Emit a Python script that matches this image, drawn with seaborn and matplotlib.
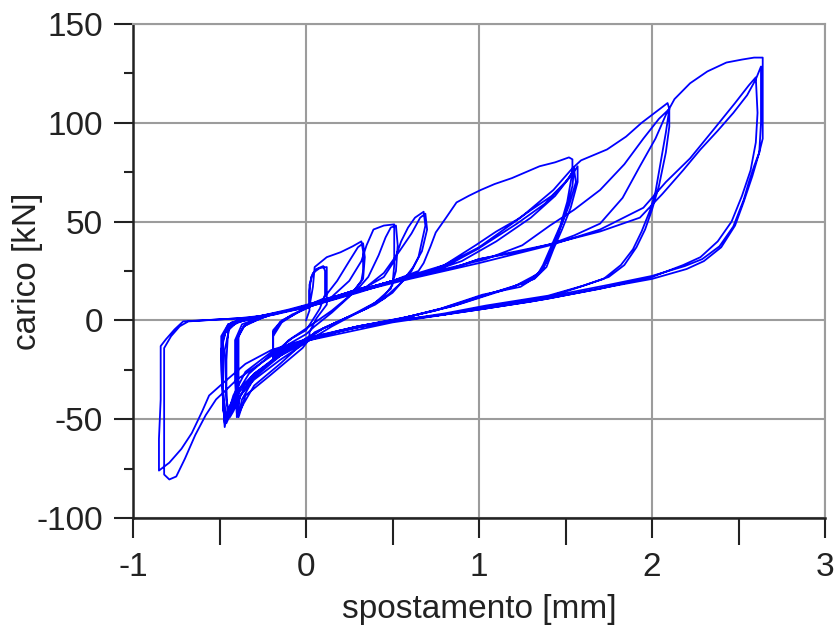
import numpy as np
import pandas as pd
import matplotlib
matplotlib.use("Agg")
import matplotlib.pyplot as plt
import seaborn as sns
from matplotlib.ticker import MultipleLocator

# ---------------- data ----------------
# displacement [mm] / load [kN], one list per cycle, in loading order
a1_x = [0.00, 0.02, 0.02, 0.03, 0.06, 0.10, 0.11, 0.11, 0.08, 0.03, 0.00, -0.08, -0.15, -0.19, -0.19, -0.19, -0.15, -0.08, 0.00, 0.02]
a1_y = [0, 5, 15, 22, 26, 27.5, 25, 13, 6, -1, -5, -9, -14, -20, -12, -5, -1, 3, 6, 7]
a2_x = [0.02, 0.04, 0.08, 0.12, 0.12, 0.12, 0.06, 0.02, 0.02, -0.10, -0.19, -0.19, -0.14, -0.05, 0.02]
a2_y = [18, 24, 26.5, 27, 18, 8, 1, -6, -10, -13, -19, -8, -1, 4, 7]
b1_x = [0.04, 0.05, 0.12, 0.20, 0.27, 0.32, 0.33, 0.33, 0.32, 0.25, 0.15, 0.05, 0.00, -0.10, -0.19, -0.19, -0.15, -0.05, 0.02]
b1_y = [17, 27, 32, 34.5, 37.5, 40, 35, 25, 20, 12, 4, -3, -7, -12, -19, -7, -1, 4, 8]
b2_x = [0.10, 0.18, 0.25, 0.30, 0.33, 0.34, 0.33, 0.26, 0.15, 0.02, -0.10, -0.19, -0.19, -0.14, 0.00]
b2_y = [11, 20, 30, 37, 39, 32, 21, 13, 5, -3, -10, -18, -6, 0, 6]
c1_x = [0.15, 0.25, 0.32, 0.35, 0.39, 0.45, 0.51, 0.51, 0.51, 0.50, 0.45, 0.35, 0.20, 0.05, -0.02, -0.21, -0.35, -0.39, -0.39, -0.39, -0.39, -0.36, -0.30, -0.20, -0.10, 0.00]
c1_y = [12, 20, 30, 38, 46, 48, 48.6, 40, 28, 18, 12, 6, 0, -6, -14, -28, -38, -49, -35, -20, -8, -3, 0, 3, 5, 7]
c2_x = [0.15, 0.30, 0.36, 0.42, 0.46, 0.49, 0.52, 0.53, 0.52, 0.49, 0.40, 0.25, 0.10, 0.00, -0.15, -0.30, -0.36, -0.40, -0.40, -0.40, -0.36, -0.25, -0.10, 0.02]
c2_y = [11, 16, 22, 33, 42, 47, 48, 38, 25, 16, 9, 2, -4, -10, -22, -33, -42, -49, -30, -10, -3, 1.5, 5, 8]
d1_x = [0.20, 0.35, 0.45, 0.51, 0.55, 0.59, 0.63, 0.68, 0.69, 0.67, 0.65, 0.61, 0.56, 0.50, 0.40, 0.25, 0.10, 0.00, -0.15, -0.30, -0.40, -0.45, -0.47, -0.48, -0.49, -0.49, -0.45, -0.38, -0.25, -0.10, 0.02]
d1_y = [13, 17, 22, 30, 40, 47, 52, 55, 48, 40, 32, 25, 20, 14, 8, 2, -4, -9, -18, -27, -36, -45, -54, -40, -25, -8, -2, 0.5, 2.5, 5, 8]
d2_x = [0.20, 0.35, 0.45, 0.54, 0.61, 0.66, 0.69, 0.70, 0.67, 0.62, 0.55, 0.45, 0.30, 0.15, 0.02, -0.15, -0.30, -0.40, -0.46, -0.48, -0.48, -0.48, -0.43, -0.30, -0.10, 0.05]
d2_y = [13, 17, 24, 35, 44, 52, 54, 46, 35, 27, 19, 11, 4, -3, -10, -20, -30, -40, -52, -45, -25, -8, -1, 1.5, 5.5, 9]
e1_x = [0.30, 0.50, 0.65, 0.68, 0.72, 0.75, 0.81, 0.87, 0.94, 1.01, 1.09, 1.19, 1.27, 1.35, 1.44, 1.52, 1.54, 1.54, 1.51, 1.47, 1.42, 1.37, 1.33, 1.24, 1.02, 0.78, 0.53, 0.30, 0.02, -0.15, -0.30, -0.40, -0.46, -0.48, -0.48, -0.45, -0.30, -0.10, 0.10]
e1_y = [15, 20, 25, 29, 37.5, 44.5, 52, 59.7, 63, 66, 69, 72, 75, 78, 80, 82.5, 81.5, 75, 60, 48, 38, 28, 22, 17, 13, 6, 0.5, -3, -9, -17, -27, -38, -50, -35, -10, -2, 1, 5, 10]
e2_x = [0.30, 0.50, 0.70, 0.80, 0.98, 1.10, 1.22, 1.32, 1.42, 1.50, 1.55, 1.56, 1.52, 1.46, 1.41, 1.37, 1.28, 1.08, 0.84, 0.55, 0.30, 0.05, -0.10, -0.25, -0.36, -0.42, -0.44, -0.46, -0.46, -0.45, -0.40, -0.25, 0.00, 0.15]
e2_y = [15, 20, 24.5, 28, 38, 45, 51, 57, 63, 70, 76, 70, 58, 45, 34, 26, 19.5, 14, 7, 1, -3, -8, -14, -24, -35, -46, -49, -40, -20, -5, -1, 2, 7, 11]
e3_x = [0.35, 0.60, 0.80, 0.99, 1.22, 1.38, 1.48, 1.54, 1.57, 1.57, 1.53, 1.48, 1.43, 1.39, 1.32, 1.13, 0.88, 0.60, 0.30, 0.02, -0.15, -0.30, -0.38, -0.40, -0.41, -0.41, -0.37, -0.25, 0.00, 0.20]
e3_y = [16.5, 22, 27, 36, 49, 59, 68, 74, 78, 70, 57, 46, 36, 27, 21, 15, 8, 2, -3, -9.5, -17, -28, -38, -47, -30, -10, -2, 2, 7, 12]
e4_x = [0.40, 0.70, 0.90, 1.10, 1.30, 1.44, 1.52, 1.55, 1.54, 1.50, 1.45, 1.40, 1.35, 1.20, 1.00, 0.75, 0.50, 0.25, 0.02, -0.15, -0.30, -0.37, -0.39, -0.40, -0.40, -0.35, -0.20, 0.00, 0.20]
e4_y = [17.5, 24, 30, 40, 52, 63, 72, 77, 68, 54, 42, 31, 24, 17, 12, 5, 0, -4, -10, -18, -29, -40, -48, -30, -9, -2, 3, 7, 12]
f1_x = [0.50, 0.80, 1.00, 1.24, 1.43, 1.54, 1.59, 1.74, 1.85, 1.94, 2.03, 2.09, 2.10, 2.08, 2.05, 2.02, 1.99, 1.94, 1.89, 1.82, 1.72, 1.55, 1.40, 1.04, 0.80, 0.53, 0.30, 0.02, -0.20, -0.35, -0.42, -0.45, -0.47, -0.48, -0.49, -0.46, -0.40, -0.20, 0.00, 0.30]
f1_y = [20, 28, 37, 52, 66, 77, 81, 86.5, 93, 100, 106, 110, 107, 95, 80, 65, 56, 45, 36, 28, 21, 16, 12, 7, 3, 0, -3.5, -9, -16, -26, -38, -47, -52, -40, -15, -4, 0, 3, 7, 15]
f2_x = [0.50, 0.85, 1.04, 1.25, 1.41, 1.55, 1.70, 1.84, 1.95, 2.04, 2.10, 2.10, 2.08, 2.04, 2.00, 1.96, 1.91, 1.84, 1.75, 1.60, 1.40, 1.04, 0.80, 0.50, 0.20, 0.02, -0.20, -0.33, -0.40, -0.44, -0.45, -0.46, -0.47, -0.44, -0.35, -0.15, 0.02, 0.30]
f2_y = [20, 27, 31, 38, 48, 56, 66, 79, 92, 102, 107, 98, 85, 68, 56, 46, 37, 28, 22, 17.5, 12.5, 7.5, 3.5, -0.5, -5, -9.5, -17, -27, -37, -46, -50, -38, -15, -3, 0.5, 4, 7.5, 15]
f3_x = [0.50, 0.85, 1.00, 1.25, 1.41, 1.55, 1.70, 1.83, 1.93, 2.02, 2.08]
f3_y = [20, 26.5, 31, 35, 38.5, 43, 49, 62, 78, 92, 104]
g1_x = [2.13, 2.22, 2.32, 2.43, 2.52, 2.59, 2.64, 2.64, 2.64, 2.64, 2.62, 2.59, 2.56, 2.53, 2.47, 2.39, 2.29, 2.19, 2.00, 1.75, 1.40, 1.04, 0.80, 0.53, 0.30, 0.02, -0.20, -0.35, -0.47, -0.56, -0.60, -0.66, -0.72, -0.79, -0.85, -0.85, -0.84, -0.84, -0.84, -0.81, -0.76, -0.71, -0.55, -0.40, -0.18, 0.02, 0.30, 0.50, 0.85, 1.00]
g1_y = [112, 120, 126, 130.5, 132, 133, 133, 120, 105, 92, 85, 78, 70, 61, 47.5, 37.5, 31, 27.5, 22.5, 18, 12, 7, 3, 0, -3.5, -9, -15, -22, -31, -38, -46, -57, -65, -72, -76, -60, -40, -20, -13, -9.6, -4.6, -0.5, 0.3, 1, 3, 7, 14, 19.5, 26.5, 31]
g2_x = [1.41, 1.70, 1.93, 2.06, 2.18, 2.28, 2.38, 2.47, 2.55, 2.60, 2.63, 2.63, 2.63, 2.62, 2.58, 2.53, 2.48, 2.40, 2.30, 2.20, 2.00, 1.75, 1.40, 1.04, 0.50, 0.02, -0.20, -0.40, -0.52, -0.58, -0.64, -0.70, -0.75, -0.79, -0.82, -0.82, -0.82, -0.82, -0.78, -0.73, -0.68, -0.50, -0.30, 0.00, 0.30, 0.60, 1.00]
g2_y = [38.5, 45, 52, 64, 76, 86.5, 96, 105, 114, 122, 128.5, 123, 100, 85, 73, 60, 48, 37, 30, 26, 21, 17, 11, 6, -1, -10, -18, -30, -40, -48, -58, -70, -79, -80.5, -78, -60, -30, -14, -8, -3, -0.5, 0.5, 1.5, 6.5, 14.5, 21, 29]
g3_x = [1.41, 1.70, 1.95, 2.08, 2.22, 2.36, 2.48, 2.56, 2.60, 2.61, 2.60, 2.57, 2.52, 2.46, 2.38, 2.28, 2.18, 2.00, 1.70, 1.30, 1.00, 0.60]
g3_y = [38, 46, 57, 70, 82, 97, 110, 119, 123, 105, 90, 76, 63, 50, 40, 32, 28, 22, 16, 9.5, 5.5, 0.5]

cycles_x = [a1_x, a2_x, b1_x, b2_x, c1_x, c2_x, d1_x, d2_x, e1_x, e2_x, e3_x, e4_x,
            f1_x, f2_x, f3_x, g1_x, g2_x, g3_x]
cycles_y = [a1_y, a2_y, b1_y, b2_y, c1_y, c2_y, d1_y, d2_y, e1_y, e2_y, e3_y, e4_y,
            f1_y, f2_y, f3_y, g1_y, g2_y, g3_y]

xs = np.concatenate([np.asarray(c, float) for c in cycles_x])
ys = np.concatenate([np.asarray(c, float) for c in cycles_y])
df = pd.DataFrame({"spostamento": xs, "carico": ys})

x_ticks = [-1, 0, 1, 2, 3]
y_ticks = [-100, -50, 0, 50, 100, 150]

# ---------------- drawing ----------------
sns.set_theme(style="white")
plt.rcParams["font.family"] = ["Liberation Sans", "DejaVu Sans"]
plt.rcParams["axes.unicode_minus"] = False

fig = plt.figure(figsize=(8.35, 6.3), dpi=100)
ax = fig.add_axes([133 / 835, 1 - 518 / 630, (825 - 133) / 835, (518 - 24) / 630])

sns.lineplot(data=df, x="spostamento", y="carico", sort=False, estimator=None,
             color="#0000ff", lw=1.3, ax=ax)

ax.set_xlim(-1, 3)
ax.set_ylim(-100, 150)
ax.set_xticks(x_ticks)
ax.set_yticks(y_ticks)
ax.set_xticklabels([str(t) for t in x_ticks])
ax.set_yticklabels([str(t) for t in y_ticks])
ax.xaxis.set_minor_locator(MultipleLocator(0.5))
ax.yaxis.set_minor_locator(MultipleLocator(25))

ax.grid(True, which="major", color="#9c9c9c", lw=1.5)
ax.set_axisbelow(True)
for s in ["top", "right"]:
    ax.spines[s].set_color("#9c9c9c")
    ax.spines[s].set_linewidth(1.5)
for s in ["left", "bottom"]:
    ax.spines[s].set_color("#222222")
    ax.spines[s].set_linewidth(1.8)

ax.tick_params(axis="both", which="both", direction="out", color="#222222",
               width=1.5, labelcolor="#222222", labelsize=24)
ax.tick_params(axis="x", which="major", length=14.4, pad=10, bottom=True)
ax.tick_params(axis="x", which="minor", length=19.4, bottom=True)
ax.tick_params(axis="y", which="major", length=13.7, pad=8, left=True)
ax.tick_params(axis="y", which="minor", length=6.5, left=True)

ax.set_xlabel("spostamento [mm]", fontsize=24, color="#222222", labelpad=8)
ax.set_ylabel("carico [kN]", fontsize=24, color="#222222")
ax.yaxis.set_label_coords((43 - 133) / (825 - 133), 0.5)

fig.savefig("out.png", dpi=100)
